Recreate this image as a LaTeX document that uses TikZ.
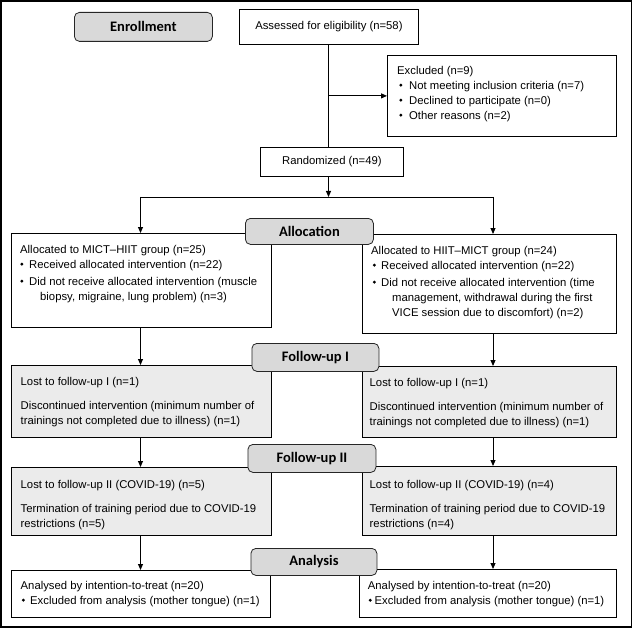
\documentclass[tikz,border=0pt]{standalone}
\usepackage{fontspec}
\usepackage{graphicx}
\setmainfont{Liberation Sans}
\newfontfamily\carlito{Carlito}
\usetikzlibrary{arrows.meta,calc}
\definecolor{labfill}{RGB}{217,217,217}
\definecolor{fufill}{RGB}{235,235,235}
\newcommand\bul{\raisebox{2.4pt}{\rotatebox{45}{\rule{2.3pt}{2.3pt}}}}
\newcommand\itm[3]{\par\hangindent=#3\hangafter=1\noindent\hspace*{#1}\makebox[\dimexpr#2-#1\relax][l]{\bul}\ignorespaces}
\newcommand\para{\par\vspace{9pt}\noindent}
\tikzset{
  box/.style={draw=black, line width=0.8pt, rectangle, inner sep=0pt, anchor=north west,
    font=\fontsize{11.3}{15}\selectfont},
  grey/.style={box, fill=fufill},
  txt/.style={inner sep=0pt, anchor=north west, align=left, font=\fontsize{11.3}{15}\selectfont},
  lab/.style={draw=black!85, line width=0.8pt, fill=labfill, rounded corners=5pt, inner sep=0pt,
    anchor=north west, font=\carlito\bfseries\fontsize{14.5}{16}\selectfont},
  line/.style={draw=black, line width=0.9pt},
  arr/.style={line, -{Triangle[length=6pt,width=5pt]}}
}
\begin{document}
\begin{tikzpicture}[x=1pt,y=-1pt]
\useasboundingbox (0,0) rectangle (636,628);
\draw[line width=1.5pt] (1,1) rectangle (631.5,627);

% boxes
\node[box, minimum width=179pt, minimum height=35pt] (ass) at (239,9) {Assessed for eligibility (n=58)};
\node[box, minimum width=229pt, minimum height=81pt] (exc) at (387,55) {};
\node[box, minimum width=143pt, minimum height=29pt] (rand) at (260,147) {Randomized (n=49)};
\node[box, minimum width=260pt, minimum height=94pt] (alL) at (11,233) {};
\node[box, minimum width=254pt, minimum height=99pt] (alR) at (362,234) {};
\node[grey, minimum width=260pt, minimum height=72pt] (f1L) at (11,365) {};
\node[grey, minimum width=254pt, minimum height=71pt] (f1R) at (362,366) {};
\node[grey, minimum width=260pt, minimum height=68pt] (f2L) at (11,467) {};
\node[grey, minimum width=254pt, minimum height=69pt] (f2R) at (362,466) {};
\node[box, minimum width=259pt, minimum height=47pt] (anL) at (11,570) {};
\node[box, minimum width=257pt, minimum height=48pt] (anR) at (359,569) {};

% texts
\node[txt] (excT) at ([shift={(10,8.5)}]exc.north west) {\parbox[t]{300pt}{\strut Excluded (n=9)%
\itm{2pt}{12pt}{12pt}Not meeting inclusion criteria (n=7)%
\itm{2pt}{12pt}{12pt}Declined to participate (n=0)%
\itm{2pt}{12pt}{12pt}Other reasons (n=2)}};
\node[txt] (alLT) at ([shift={(9,9.5)}]alL.north west) {\parbox[t]{300pt}{\strut Allocated to MICT\textendash HIIT group (n=25)%
\itm{0pt}{9pt}{20pt}Received allocated intervention (n=22)\par\vspace{2pt}%
\itm{0pt}{9pt}{20pt}Did not receive allocated intervention (muscle\hfill\break biopsy, migraine, lung problem) (n=3)}};
\node[txt] (alRT) at ([shift={(9,9.5)}]alR.north west) {\parbox[t]{300pt}{\strut Allocated to HIIT\textendash MICT group (n=24)%
\itm{1.5pt}{10pt}{21pt}Received allocated intervention (n=22)\par\vspace{2pt}%
\itm{1.5pt}{10pt}{21pt}Did not receive allocated intervention (time\hfill\break management, withdrawal during the first\hfill\break VICE session due to discomfort) (n=2)}};
\node[txt] (f1LT) at ([shift={(9.5,9.5)}]f1L.north west) {\parbox[t]{300pt}{\strut Lost to follow-up I (n=1)\para
Discontinued intervention (minimum number of\hfill\break trainings not completed due to illness) (n=1)}};
\node[txt] (f1RT) at ([shift={(7.5,9.5)}]f1R.north west) {\parbox[t]{300pt}{\strut Lost to follow-up I (n=1)\para
Discontinued intervention (minimum number of\hfill\break trainings not completed due to illness) (n=1)}};
\node[txt] (f2LT) at ([shift={(9.5,10.5)}]f2L.north west) {\parbox[t]{300pt}{\strut Lost to follow-up II (COVID-19) (n=5)\para
Termination of training period due to COVID-19\hfill\break restrictions (n=5)}};
\node[txt] (f2RT) at ([shift={(7.5,11.5)}]f2R.north west) {\parbox[t]{300pt}{\strut Lost to follow-up II (COVID-19) (n=4)\para
Termination of training period due to COVID-19\hfill\break restrictions (n=4)}};
\node[txt] (anLT) at ([shift={(9.5,8.5)}]anL.north west) {\parbox[t]{300pt}{\strut Analysed by intention-to-treat (n=20)%
\itm{1pt}{9.5pt}{9.5pt}Excluded from analysis (mother tongue) (n=1)}};
\node[txt] (anRT) at ([shift={(8.7,9.5)}]anR.north west) {\parbox[t]{300pt}{\strut Analysed by intention-to-treat (n=20)%
\itm{0.7pt}{6.8pt}{6.8pt}Excluded from analysis (mother tongue) (n=1)}};

% stage labels
\node[lab, minimum width=138pt, minimum height=29pt] (enr) at (74,12) {Enrollment};
\node[lab, minimum width=128pt, minimum height=26pt] (alloc) at (245,218) {Allocation};
\node[lab, minimum width=127pt, minimum height=28pt] (fu1) at (251.5,343) {Follow-up I};
\node[lab, minimum width=128pt, minimum height=28pt] (fu2) at (247.5,444) {Follow-up II};
\node[lab, minimum width=126pt, minimum height=27pt] (ana) at (250.5,548) {Analysis};

% connectors
\coordinate (sp) at (328.5,197);
\coordinate (lb) at (140.5,197);
\coordinate (rb) at (493,197);
\draw[line] (ass.south) -- (ass.south |- rand.north);
\draw[arr] (ass.south |- exc.west) -- (exc.west);
\draw[arr] (rand.south -| sp) -- (sp);
\draw[line] (lb) -- (rb);
\draw[arr] (lb) -- (lb |- alL.north);
\draw[arr] (rb) -- (rb |- alR.north);
\draw[arr] (lb |- alL.south) -- (lb |- f1L.north);
\draw[arr] (rb |- alR.south) -- (rb |- f1R.north);
\draw[arr] (lb |- f1L.south) -- (lb |- f2L.north);
\draw[arr] (rb |- f1R.south) -- (rb |- f2R.north);
\draw[arr] (lb |- f2L.south) -- (lb |- anL.north);
\draw[arr] (rb |- f2R.south) -- (rb |- anR.north);
\end{tikzpicture}
\end{document}
